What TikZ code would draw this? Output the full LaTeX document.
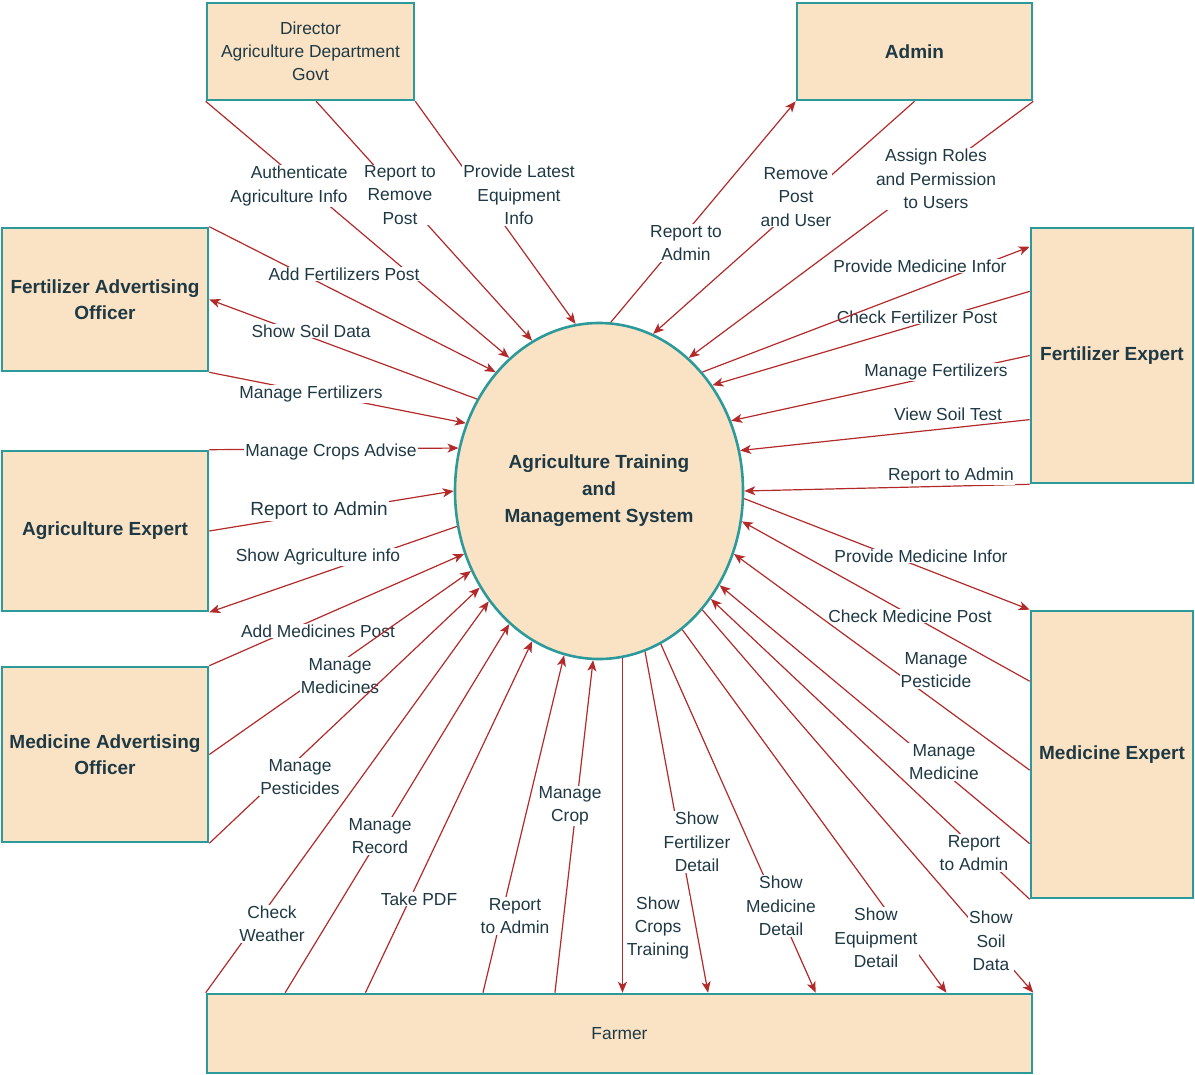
\documentclass[tikz,border=0pt]{standalone}
\usepackage{fontspec}
\setmainfont{Liberation Sans}
\usetikzlibrary{shapes.geometric,arrows.meta,calc}
\definecolor{boxfill}{HTML}{FAE3C5}
\definecolor{boxline}{HTML}{2C9A9A}
\definecolor{flow}{HTML}{B22A2A}
\definecolor{txt}{HTML}{1F3944}
\begin{document}
\begin{tikzpicture}[x=1pt,y=-1pt,
  entity/.style={draw=boxline, line width=2.6pt, fill=boxfill, inner sep=0pt, text=txt,
    font=\fontsize{19}{26}\selectfont\bfseries, align=center},
  flowline/.style={draw=flow, line width=1.2pt},
  arr/.style={-{Stealth[length=11pt,width=9pt,inset=3pt]}},
  lbl/.style={fill=white, inner sep=1pt, text=txt, font=\fontsize{17.4}{23.3}\selectfont, align=center}]

\useasboundingbox (0,0) rectangle (1195,1075);

% ---------- entities ----------
\node[entity, minimum width=207pt, minimum height=97pt, font=\fontsize{17.4}{23}\selectfont] (dir) at (310.5,51.5)
  {Director\\Agriculture Department\\Govt};
\node[entity, minimum width=235pt, minimum height=97pt] (adm) at (914.5,51.5) {Admin};
\node[entity, minimum width=206pt, minimum height=143pt] (fao) at (105,299.5) {Fertilizer Advertising\\Officer};
\node[entity, minimum width=206pt, minimum height=160pt] (ae) at (105,531) {Agriculture Expert};
\node[entity, minimum width=206pt, minimum height=175pt] (mao) at (105,754.5) {Medicine Advertising\\Officer};
\node[entity, minimum width=162pt, minimum height=255pt] (fe) at (1112,355.5) {Fertilizer Expert};
\node[entity, minimum width=162pt, minimum height=287pt] (me) at (1112,754.5) {Medicine Expert};
\node[entity, minimum width=825pt, minimum height=79pt, font=\fontsize{17.4}{23}\selectfont] (farmer) at (619.5,1033.5) {Farmer};
\node[ellipse, draw=boxline, line width=2.6pt, fill=boxfill, minimum width=288pt, minimum height=336pt,
  inner sep=0pt, text=txt, font=\fontsize{19}{27}\selectfont\bfseries, align=center] (sys) at (599,491)
  {Agriculture Training\\and\\Management System};

% ---------- Director ----------
\draw[flowline,arr] (dir.south west) -- (sys.124.9);
\node[lbl, align=right] (l1) at (289,186) {Authenticate\\Agriculture Info};
\draw[flowline,arr] ($(dir.south west)!0.527!(dir.south east)$) -- (sys.114.2);
\node[lbl] (l2) at (400,195) {Report to\\Remove\\Post};
\draw[flowline,arr] (dir.south east) -- (sys.98.1);
\node[lbl] (l3) at (519,195) {Provide Latest\\Equipment\\Info};

% ---------- Admin ----------
\draw[flowline,arr] (sys.86.6) -- (adm.south west);
\node[lbl] (l4) at (686,243) {Report to\\Admin};
\draw[flowline,arr] (adm.south) -- (sys.71.1);
\node[lbl] (l5) at (796,197) {Remove\\Post\\and User};
\draw[flowline,arr] (adm.south east) -- (sys.56.0);
\node[lbl] (l6) at (936,179) {Assign Roles\\and Permission\\to Users};

% ---------- Fertilizer Expert ----------
\draw[flowline,arr] ($(fe.north west)!0.251!(fe.south west)$) -- (sys.43.0);
\node[lbl] (l8) at (917,317) {Check Fertilizer Post};
\draw[flowline,arr] (sys.49.3) -- ($(fe.north west)!0.078!(fe.south west)$);
\node[lbl] (l7) at (920,266) {Provide Medicine Infor};
\draw[flowline,arr] (fe.west) -- (sys.28.6);
\node[lbl] (l9) at (936,372) {Manage Fertilizers};
\draw[flowline,arr] ($(fe.north west)!0.749!(fe.south west)$) -- (sys.16.1);
\node[lbl] (l10) at (948,414) {View Soil Test};
\draw[flowline,arr] (fe.south west) -- (sys.-0.4);
\node[lbl] (l11) at (951,476) {Report to Admin};

% ---------- Medicine Expert ----------
\draw[flowline,arr] (sys.-3.6) -- (me.north west);
\node[lbl] (l12) at (921,556) {Provide Medicine Infor};
\draw[flowline,arr] ($(me.north west)!0.247!(me.south west)$) -- (sys.-12.5);
\node[lbl] (l13) at (910,616) {Check Medicine Post};
\draw[flowline,arr] ($(me.north west)!0.554!(me.south west)$) -- (sys.-25.5);
\node[lbl] (l14) at (936,670) {Manage\\Pesticide};
\draw[flowline,arr] ($(me.north west)!0.808!(me.south west)$) -- (sys.-38.8);
\node[lbl] (l15) at (944,762) {Manage\\Medicine};
\draw[flowline,arr] (me.south west) -- (sys.-44.7);
\node[lbl] (l16) at (974,853) {Report\\to Admin};

% ---------- Farmer (outputs) ----------
\draw[flowline,arr] (sys.-49.6) -- (farmer.north east);
\node[lbl] (l17) at (991,941) {Show\\Soil\\Data};
\draw[flowline,arr] (sys.-59.9) -- ($(farmer.north west)!0.895!(farmer.north east)$);
\node[lbl] (l18) at (876,938) {Show\\Equipment\\Detail};
\draw[flowline,arr] (sys.-68.4) -- ($(farmer.north west)!0.737!(farmer.north east)$);
\node[lbl] (l19) at (781,906) {Show\\Medicine\\Detail};
\draw[flowline,arr] (sys.-74.8) -- ($(farmer.north west)!0.607!(farmer.north east)$);
\node[lbl] (l20) at (697,842) {Show\\Fertilizer\\Detail};
\draw[flowline,arr] (sys.-82.8) -- (sys.-82.8 |- farmer.north);
\node[lbl] (l21) at (658,928) {Show\\Crops\\Training};

% ---------- Farmer (inputs) ----------
\draw[flowline,arr] ($(farmer.north west)!0.422!(farmer.north east)$) -- (sys.-92.9);
\node[lbl] (l22) at (570,806) {Manage\\Crop};
\draw[flowline,arr] ($(farmer.north west)!0.335!(farmer.north east)$) -- (sys.-102.8);
\node[lbl] (l23) at (515,916) {Report\\to Admin};
\draw[flowline,arr] ($(farmer.north west)!0.193!(farmer.north east)$) -- (sys.-114.0);
\node[lbl] (l24) at (419,899) {Take PDF};
\draw[flowline,arr] ($(farmer.north west)!0.096!(farmer.north east)$) -- (sys.-124.6);
\node[lbl] (l25) at (380,836) {Manage\\Record};
\draw[flowline,arr] (farmer.north west) -- (sys.-135);
\node[lbl] (l26) at (272,924) {Check\\Weather};

% ---------- Medicine Advertising Officer ----------
\draw[flowline,arr] (mao.north east) -- (sys.-155.7);
\node[lbl] (l29) at (318,631) {Add Medicines Post};
\draw[flowline,arr] (mao.east) -- (sys.-148.0);
\node[lbl] (l28) at (340,676) {Manage\\Medicines};
\draw[flowline,arr] (mao.south east) -- (sys.-141.2);
\node[lbl] (l27) at (300,777) {Manage\\Pesticides};

% ---------- Agriculture Expert ----------
\draw[flowline,arr] (sys.-166.9) -- (ae.south east);
\node[lbl] (l30) at (318,557) {Show Agriculture info};
\draw[flowline,arr] (ae.east) -- (sys.180);
\node[lbl, font=\fontsize{19}{24}\selectfont] (l31) at (319,511) {Report to Admin};
\draw[flowline,arr] (ae.north east) -- (sys.163.4);
\node[lbl] (l32) at (331,452) {Manage Crops Advise};

% ---------- Fertilizer Advertising Officer ----------
\draw[flowline,arr] (fao.south east) -- (sys.153.4);
\node[lbl] (l33) at (311,394) {Manage Fertilizers};
\draw[flowline,arr] (sys.143.1) -- (fao.east);
\node[lbl] (l34) at (311,331) {Show Soil Data};
\draw[flowline,arr] (fao.north east) -- (sys.131.2);
\node[lbl] (l35) at (344,274) {Add Fertilizers Post};

\end{tikzpicture}
\end{document}
